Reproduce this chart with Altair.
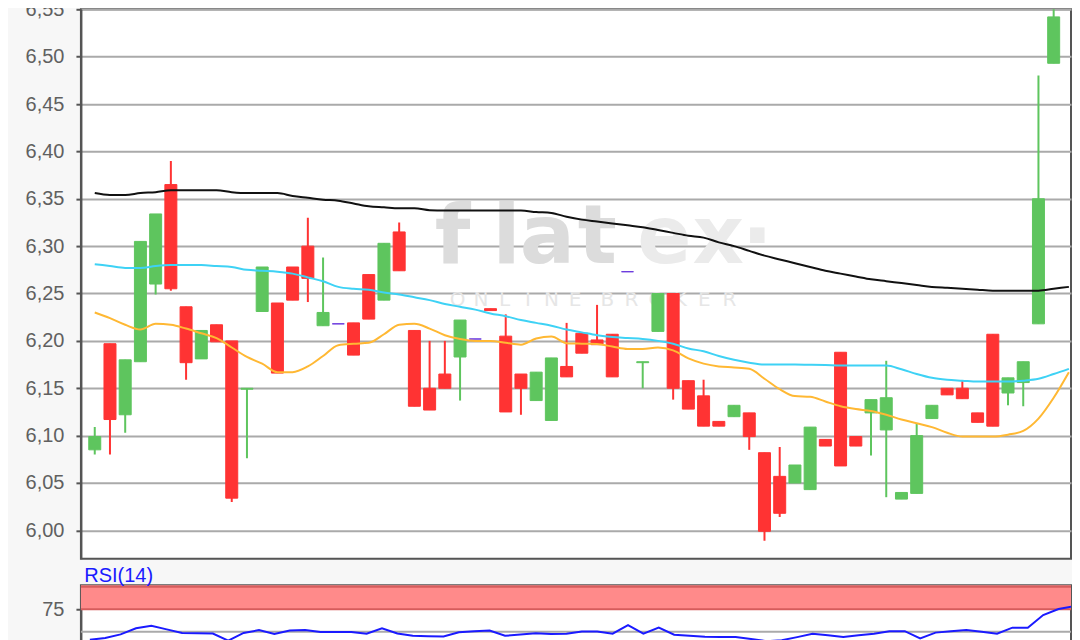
import altair as alt
import pandas as pd
import numpy as np

# ---------------- data ----------------
opens = [6.085, 6.197, 6.122, 6.178, 6.260, 6.365, 6.236, 6.181, 6.217, 6.200,
         6.149, 6.231, 6.240, 6.278, 6.300, 6.216, 6.218, 6.219, 6.270, 6.243,
         6.315, 6.211, 6.150, 6.165, 6.183, 6.202, 6.234, 6.205, 6.165, 6.137,
         6.116, 6.173, 6.208, 6.201, 6.207, 6.273, 6.177, 6.210, 6.250, 6.158,
         6.142, 6.115, 6.120, 6.124, 6.082, 6.057, 6.050, 6.043, 6.096, 6.188,
         6.099, 6.124, 6.106, 6.033, 6.039, 6.118, 6.150, 6.150, 6.124, 6.207,
         6.145, 6.156, 6.218, 6.493]
highs = [6.109, 6.197, 6.180, 6.305, 6.334, 6.390, 6.236, 6.211, 6.217, 6.200,
         6.150, 6.278, 6.240, 6.278, 6.330, 6.288, 6.218, 6.219, 6.270, 6.303,
         6.325, 6.211, 6.200, 6.200, 6.222, 6.202, 6.234, 6.228, 6.165, 6.167,
         6.182, 6.219, 6.208, 6.238, 6.207, 6.273, 6.178, 6.250, 6.250, 6.158,
         6.159, 6.115, 6.132, 6.124, 6.082, 6.088, 6.069, 6.109, 6.096, 6.188,
         6.099, 6.138, 6.179, 6.040, 6.113, 6.132, 6.150, 6.158, 6.124, 6.207,
         6.161, 6.178, 6.480, 6.560]
lows = [6.080, 6.080, 6.103, 6.178, 6.249, 6.253, 6.159, 6.181, 6.199, 6.030,
        6.076, 6.231, 6.166, 6.243, 6.241, 6.216, 6.218, 6.185, 6.223, 6.243,
        6.274, 6.131, 6.127, 6.150, 6.137, 6.202, 6.232, 6.125, 6.122, 6.137,
        6.116, 6.162, 6.187, 6.196, 6.162, 6.273, 6.150, 6.210, 6.138, 6.128,
        6.110, 6.110, 6.120, 6.085, 5.989, 6.014, 6.050, 6.043, 6.089, 6.068,
        6.089, 6.079, 6.035, 6.033, 6.039, 6.118, 6.143, 6.139, 6.114, 6.110,
        6.132, 6.131, 6.218, 6.493]
closes = [6.099, 6.117, 6.180, 6.305, 6.334, 6.255, 6.177, 6.211, 6.199, 6.034,
          6.150, 6.278, 6.166, 6.243, 6.266, 6.230, 6.218, 6.185, 6.223, 6.303,
          6.274, 6.131, 6.127, 6.150, 6.222, 6.202, 6.232, 6.125, 6.150, 6.167,
          6.182, 6.162, 6.187, 6.196, 6.162, 6.273, 6.178, 6.250, 6.150, 6.128,
          6.110, 6.110, 6.132, 6.099, 5.999, 6.018, 6.069, 6.109, 6.089, 6.068,
          6.089, 6.138, 6.140, 6.040, 6.100, 6.132, 6.143, 6.139, 6.114, 6.110,
          6.161, 6.178, 6.350, 6.542]

ma_black = [6.356, 6.354, 6.354, 6.356, 6.357, 6.359, 6.359, 6.359, 6.359, 6.357,
            6.356, 6.356, 6.356, 6.353, 6.351, 6.349, 6.348, 6.345, 6.342, 6.341,
            6.340, 6.340, 6.338, 6.3375, 6.3375, 6.3375, 6.3375, 6.3375, 6.3375, 6.336,
            6.335, 6.331, 6.328, 6.326, 6.324, 6.322, 6.320, 6.317, 6.314, 6.311,
            6.309, 6.304, 6.300, 6.295, 6.290, 6.286, 6.282, 6.278, 6.274, 6.271,
            6.268, 6.265, 6.263, 6.261, 6.259, 6.257, 6.256, 6.255, 6.254, 6.253,
            6.2528, 6.2528, 6.253, 6.255, 6.257]
ma_cyan = [6.281, 6.279, 6.277, 6.277, 6.279, 6.280, 6.280, 6.280, 6.279, 6.278,
           6.275, 6.274, 6.273, 6.271, 6.267, 6.263, 6.257, 6.255, 6.254, 6.251,
           6.249, 6.246, 6.243, 6.239, 6.236, 6.233, 6.229, 6.226, 6.222, 6.219,
           6.216, 6.212, 6.209, 6.206, 6.204, 6.203, 6.202, 6.200, 6.197, 6.192,
           6.189, 6.184, 6.180, 6.177, 6.175, 6.175, 6.175, 6.1747, 6.1745, 6.174,
           6.174, 6.174, 6.174, 6.170, 6.165, 6.161, 6.159, 6.158, 6.157, 6.157,
           6.157, 6.158, 6.160, 6.165, 6.1705]
ma_orange = [6.230, 6.224, 6.217, 6.212, 6.218, 6.217, 6.213, 6.208, 6.203, 6.193,
             6.183, 6.176, 6.167, 6.167, 6.173, 6.184, 6.1955, 6.197, 6.198, 6.207,
             6.217, 6.218, 6.213, 6.206, 6.202, 6.200, 6.200, 6.198, 6.196, 6.2025,
             6.2046, 6.1976, 6.197, 6.1966, 6.194, 6.1914, 6.1914, 6.193, 6.190, 6.1815,
             6.176, 6.173, 6.172, 6.1705, 6.160, 6.149, 6.1417, 6.141, 6.136, 6.131,
             6.128, 6.126, 6.122, 6.117, 6.113, 6.109, 6.103, 6.099, 6.099, 6.099,
             6.101, 6.105, 6.118, 6.140, 6.167]
rsi_vals = [41, 43, 47, 53.8, 56.5, 52.6, 48.6, 48.3, 48, 40,
            48.6, 51.8, 47.4, 51.4, 51.8, 49.8, 49.8, 49.8, 47.8, 53.8,
            48, 45.5, 45, 44.6, 49.4, 50.5, 51.4, 45.5, 46.8, 48.2,
            47.6, 47.8, 50.2, 50.2, 47.8, 57.4, 47.8, 54.5, 46.7, 45.5,
            44.3, 44.1, 44, 42, 39.5, 40.5, 44, 47.8, 46, 44,
            46, 47.8, 50.6, 50.6, 42.6, 49, 50.5, 51.8, 50, 47.8,
            54.5, 54.5, 68.5, 75.2, 78.3]

price_ticks = [6.00, 6.05, 6.10, 6.15, 6.20, 6.25, 6.30, 6.35, 6.40, 6.45, 6.50, 6.55]
rsi_ticks = [75]
rsi_band = [75]
rsi_band_lines = [75, 100]
rsi_mid = [50]
rsi_label = "RSI(14)"

# ---------------- styling ----------------
GREEN = "#5ec55e"
RED = "#ff3333"
PURPLE = "#6633dd"
AXIS_COL = "#555555"
LABEL_COL = "#606060"
GRID_COL = "#aaaaaa"
FONT = "Liberation Sans"
W = 991
H_PRICE = 550
H_RSI = 60
PLOT_LEFT = 80
PLOT_TOP = 8

n = len(opens)
candles = pd.DataFrame({"i": list(range(n)), "open": opens, "high": highs,
                        "low": lows, "close": closes})
candles["dir"] = np.where(candles["close"] > candles["open"], "up",
                          np.where(candles["close"] < candles["open"], "down", "flat"))
ma_df = pd.DataFrame({"i": list(range(len(ma_black))), "black": ma_black,
                      "cyan": ma_cyan, "orange": ma_orange})
rsi_df = pd.DataFrame({"i": list(range(len(rsi_vals))), "rsi": rsi_vals})

xs = alt.Scale(domain=[-0.58, 63.81], nice=False, zero=False)
ys = alt.Scale(domain=[5.97, 6.55], nice=False, zero=False)
cs = alt.Scale(domain=["up", "down", "flat"], range=[GREEN, RED, PURPLE])

price_axis = alt.Axis(values=price_ticks,
                      labelExpr="replace(format(datum.value, '.2f'), '.', ',')",
                      title=None, grid=True, gridColor=GRID_COL, gridWidth=2,
                      domainColor=AXIS_COL, domainWidth=2, tickColor=AXIS_COL,
                      tickWidth=2, tickSize=5, labelFont=FONT, labelFontSize=20,
                      labelColor=LABEL_COL, labelPadding=12)

X = alt.X("i:Q", scale=xs, axis=None)


def wm(ch, px, py, size, color, weight="normal"):
    return alt.Chart(pd.DataFrame({"t": [ch]})).mark_text(
        font="DejaVu Sans", fontSize=size, color=color, fontWeight=weight,
        align="center", baseline="alphabetic"
    ).encode(text="t:N", x=alt.value(px - PLOT_LEFT), y=alt.value(py - PLOT_TOP))


watermarks = [
    wm("f", 452, 262, 82, "#dcdcdc", "bold"),
    wm("l", 506, 262, 82, "#dcdcdc", "bold"),
    wm("a", 547, 262, 82, "#dcdcdc", "bold"),
    wm("t", 597, 262, 82, "#dcdcdc", "bold"),
    wm("e", 664, 262, 80, "#ebebeb", "bold"),
    wm("x", 718, 262, 80, "#ebebeb", "bold"),
    wm(".", 757, 242, 82, "#ebebeb", "bold"),
]
for ch, px in zip("ONLINE", [457, 480.5, 504, 527.5, 551, 574.5]):
    watermarks.append(wm(ch, px, 305, 20, "#e6e6e6"))
for ch, px in zip("BROKER", [607, 631, 656, 680, 704, 729]):
    watermarks.append(wm(ch, px, 305, 20, "#e6e6e6"))

wicks = alt.Chart(candles).mark_rule(strokeWidth=2, clip=True).encode(
    x=X, y=alt.Y("low:Q", scale=ys, axis=price_axis), y2="high:Q",
    color=alt.Color("dir:N", scale=cs, legend=None))
bodies = alt.Chart(candles).mark_bar(size=12, strokeWidth=1, clip=True).encode(
    x=X, y=alt.Y("open:Q", scale=ys, axis=price_axis), y2="close:Q",
    color=alt.Color("dir:N", scale=cs, legend=None),
    stroke=alt.Stroke("dir:N", scale=cs, legend=None))
lines = [
    alt.Chart(ma_df).mark_line(color=c, strokeWidth=2, interpolate="monotone", clip=True).encode(
        x=X, y=alt.Y(f"{col}:Q", scale=ys, axis=price_axis))
    for col, c in [("black", "#111111"), ("cyan", "#3ed2f5"), ("orange", "#ffb833")]
]

price_chart = alt.layer(*watermarks, wicks, bodies, *lines).properties(width=W, height=H_PRICE)

# ---------------- RSI panel ----------------
rs = alt.Scale(domain=[35, 101.7], nice=False, zero=False)
rsi_axis = alt.Axis(values=rsi_ticks, title=None, grid=False, domainColor=AXIS_COL,
                    domainWidth=2, tickColor=AXIS_COL, tickWidth=2, tickSize=5,
                    labelFont=FONT, labelFontSize=20, labelColor=LABEL_COL, labelPadding=12)
XR = alt.X("i:Q", scale=xs, axis=None)

band = alt.Chart(pd.DataFrame({"lo": rsi_band})).mark_rect(color="#ff8a8a").encode(
    x=alt.value(0), x2=alt.value(W),
    y=alt.Y("lo:Q", scale=rs, axis=rsi_axis), y2=alt.value(0))
band_lines = alt.Chart(pd.DataFrame({"v": rsi_band_lines})).mark_rule(
    color="#d65c5c", strokeWidth=2).encode(y=alt.Y("v:Q", scale=rs, axis=rsi_axis))
mid = alt.Chart(pd.DataFrame({"v": rsi_mid})).mark_rule(
    color=GRID_COL, strokeWidth=2).encode(y=alt.Y("v:Q", scale=rs, axis=rsi_axis))
rsi_line = alt.Chart(rsi_df).mark_line(color="#1a1aff", strokeWidth=2, clip=True).encode(
    x=XR, y=alt.Y("rsi:Q", scale=rs, axis=rsi_axis))
rsi_title = alt.Chart(pd.DataFrame({"t": [rsi_label]})).mark_text(
    align="left", baseline="alphabetic", font=FONT, fontSize=20, color="#1a1aff"
).encode(text="t:N", x=alt.value(3.3), y=alt.value(-3.5))

rsi_chart = alt.layer(band, band_lines, mid, rsi_line, rsi_title).properties(width=W, height=H_RSI)

chart = alt.vconcat(price_chart, rsi_chart, spacing=26.5, bounds="flush").resolve_scale(
    x="independent", y="independent"
).properties(
    padding={"left": 16, "top": -10, "right": -1, "bottom": 0},
    background="#f7f7f7"
).configure_view(stroke=AXIS_COL, strokeWidth=2, fill="white")

chart.save("out.html", embed_options={"renderer": "svg", "actions": False})
